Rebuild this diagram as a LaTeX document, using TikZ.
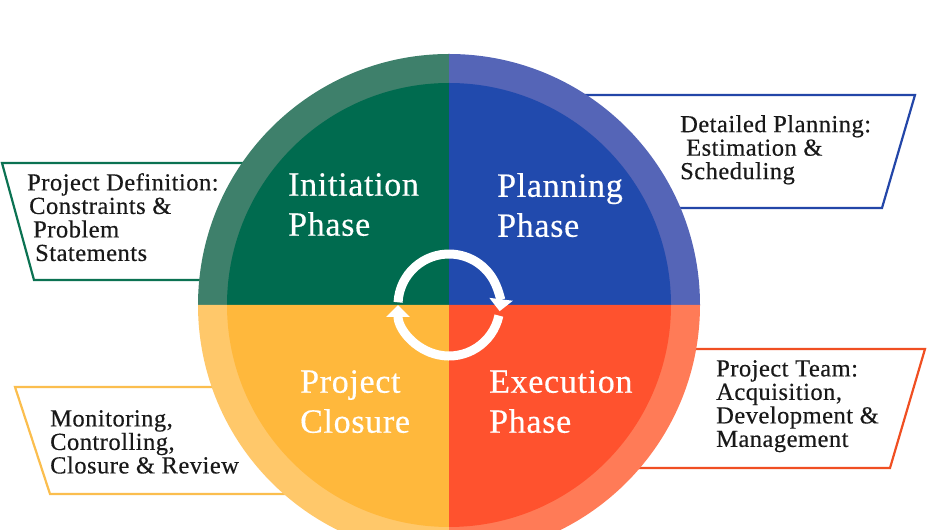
\documentclass[tikz,border=0pt]{standalone}
\usepackage{fontspec}
\setmainfont{Liberation Serif}
\newfontfamily\labelfont{Liberation Serif}[FakeBold=0.4, LetterSpace=2]
\usetikzlibrary{arrows.meta}
\definecolor{cgreen}{HTML}{006B4F}
\definecolor{rgreen}{HTML}{3E806B}
\definecolor{cblue}{HTML}{214AAD}
\definecolor{rblue}{HTML}{5565B7}
\definecolor{cyellow}{HTML}{FFB83C}
\definecolor{ryellow}{HTML}{FFC86A}
\definecolor{cred}{HTML}{FF522E}
\definecolor{rred}{HTML}{FF7B57}
\definecolor{lgreen}{HTML}{0B7252}
\definecolor{lblue}{HTML}{2346A8}
\definecolor{lyellow}{HTML}{FBBE4E}
\definecolor{lred}{HTML}{F04F22}

\begin{document}
\begin{tikzpicture}[x=1pt, y=1pt,
  callout/.style={line width=2.2pt, fill=white},
  phase/.style={text=white, anchor=north west, inner sep=0pt, align=left,
    font=\labelfont\fontsize{34}{40}\selectfont},
  note/.style={text=black!90, anchor=north west, inner sep=0pt, align=left,
    font=\labelfont\fontsize{24.5}{23.5}\selectfont}]
  \def\R{251}
  \def\r{222}
  \useasboundingbox (0,0) rectangle (927,530);
  \clip (0,0) rectangle (927,530);
  \coordinate (c) at (449,225);
  % callout frames
  \draw[callout, draw=lgreen]  (2,367) -- (300,367) -- (300,250) -- (34,250) -- cycle;
  \draw[callout, draw=lblue]   (449,435) -- (915,435) -- (882,322) -- (449,322) -- cycle;
  \draw[callout, draw=lyellow] (15,143) -- (449,143) -- (449,36) -- (50,36) -- cycle;
  \draw[callout, draw=lred]    (449,181) -- (925,181) -- (890,62) -- (449,62) -- cycle;
  % outer ring
  \fill[rgreen]  (c) -- ++(90:\R)  arc[start angle=90,  end angle=180, radius=\R] -- cycle;
  \fill[rblue]   (c) -- ++(0:\R)   arc[start angle=0,   end angle=90,  radius=\R] -- cycle;
  \fill[ryellow] (c) -- ++(180:\R) arc[start angle=180, end angle=270, radius=\R] -- cycle;
  \fill[rred]    (c) -- ++(270:\R) arc[start angle=270, end angle=360, radius=\R] -- cycle;
  % inner quarters
  \fill[cgreen]  (c) -- ++(90:\r)  arc[start angle=90,  end angle=180, radius=\r] -- cycle;
  \fill[cblue]   (c) -- ++(0:\r)   arc[start angle=0,   end angle=90,  radius=\r] -- cycle;
  \fill[cyellow] (c) -- ++(180:\r) arc[start angle=180, end angle=270, radius=\r] -- cycle;
  \fill[cred]    (c) -- ++(270:\r) arc[start angle=270, end angle=360, radius=\r] -- cycle;
  % cycle arrows
  \draw[white, line width=9pt, -{Triangle[width=23pt,length=12pt]}]
    ([shift={(177:51)}]c) arc[start angle=177, end angle=-7, radius=51];
  \draw[white, line width=9pt, -{Triangle[width=23pt,length=12pt]}]
    ([shift={(-12:51)}]c) arc[start angle=-12, end angle=-180, radius=51];
  % phase labels
  \node[phase] (init)  at (288,357) {Initiation\\Phase};
  \node[phase] (plan)  at (497,357) {Planning\\Phase};
  \node[phase] (close) at (300,160) {Project\\Closure};
  \node[phase] (exec)  at (489,160) {Execution\\Phase};
  % callout texts
  \node[note] (define)  at (27,357)
    {Project Definition:\\\hspace{2pt}Constraints \&\\\hspace{6pt}Problem\\\hspace{8pt}Statements};
  \node[note] (detail)  at (680,415)
    {Detailed Planning:\\\hspace{6pt}Estimation \&\\Scheduling};
  \node[note] (monitor) at (50,120)
    {Monitoring,\\Controlling,\\Closure \& Review};
  \node[note] (team)    at (716,170)
    {Project Team:\\Acquisition,\\Development \&\\Management};
\end{tikzpicture}
\end{document}
